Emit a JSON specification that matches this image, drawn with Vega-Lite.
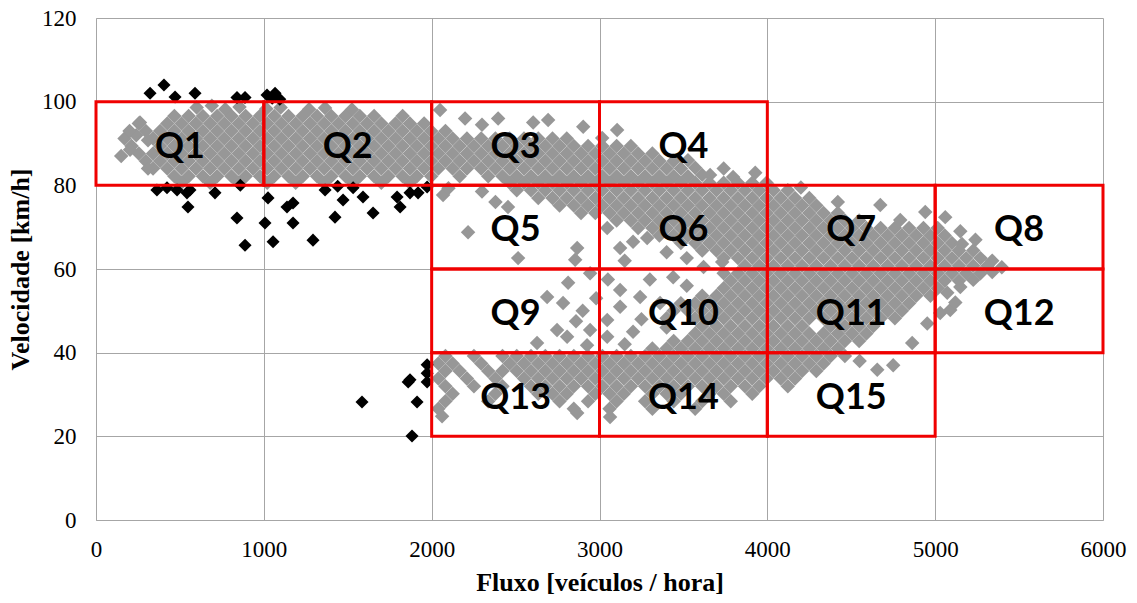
{
"$schema":"https://vega.github.io/schema/vega-lite/v6.json",
"width":1007,"height":502,
"autosize":{"type":"none"},
"padding":{"left":96,"top":18,"right":34,"bottom":83},
"background":"white",
"config":{"view":{"stroke":null}},
"datasets":{
"gray":[
{"x":600,"y":98.6},{"x":770,"y":98.2},{"x":855,"y":98.7},{"x":1015,"y":98.3},{"x":1100,"y":98.6},{"x":1270,"y":98.2},{"x":1365,"y":98.5},{"x":1525,"y":98.1},{"x":690,"y":99.0},
{"x":467,"y":96.6},{"x":552,"y":96.6},{"x":637,"y":96.6},{"x":722,"y":96.6},{"x":807,"y":96.6},{"x":892,"y":96.6},{"x":977,"y":96.6},{"x":1062,"y":96.6},{"x":1147,"y":96.6},{"x":1232,"y":96.6},{"x":1317,"y":96.6},{"x":1402,"y":96.6},{"x":1487,"y":96.6},{"x":1572,"y":96.6},{"x":1657,"y":96.6},{"x":1827,"y":96.6},
{"x":255,"y":94.8},{"x":425,"y":94.8},{"x":510,"y":94.8},{"x":595,"y":94.8},{"x":680,"y":94.8},{"x":765,"y":94.8},{"x":850,"y":94.8},{"x":935,"y":94.8},{"x":1020,"y":94.8},{"x":1105,"y":94.8},{"x":1190,"y":94.8},{"x":1275,"y":94.8},{"x":1360,"y":94.8},{"x":1445,"y":94.8},{"x":1530,"y":94.8},{"x":1615,"y":94.8},{"x":1700,"y":94.8},{"x":1785,"y":94.8},{"x":1870,"y":94.8},{"x":1955,"y":94.8},
{"x":297,"y":93.0},{"x":382,"y":93.0},{"x":467,"y":93.0},{"x":552,"y":93.0},{"x":637,"y":93.0},{"x":722,"y":93.0},{"x":807,"y":93.0},{"x":892,"y":93.0},{"x":977,"y":93.0},{"x":1062,"y":93.0},{"x":1147,"y":93.0},{"x":1232,"y":93.0},{"x":1317,"y":93.0},{"x":1402,"y":93.0},{"x":1487,"y":93.0},{"x":1572,"y":93.0},{"x":1657,"y":93.0},{"x":1742,"y":93.0},{"x":1827,"y":93.0},{"x":1912,"y":93.0},{"x":1997,"y":93.0},{"x":2082,"y":93.0},
{"x":170,"y":91.2},{"x":340,"y":91.2},{"x":425,"y":91.2},{"x":510,"y":91.2},{"x":595,"y":91.2},{"x":680,"y":91.2},{"x":765,"y":91.2},{"x":850,"y":91.2},{"x":935,"y":91.2},{"x":1020,"y":91.2},{"x":1105,"y":91.2},{"x":1190,"y":91.2},{"x":1275,"y":91.2},{"x":1360,"y":91.2},{"x":1445,"y":91.2},{"x":1530,"y":91.2},{"x":1615,"y":91.2},{"x":1700,"y":91.2},{"x":1785,"y":91.2},{"x":1870,"y":91.2},{"x":1955,"y":91.2},{"x":2040,"y":91.2},{"x":2125,"y":91.2},{"x":2210,"y":91.2},{"x":2295,"y":91.2},{"x":2380,"y":91.2},{"x":2465,"y":91.2},{"x":2550,"y":91.2},{"x":2635,"y":91.2},{"x":2720,"y":91.2},{"x":2805,"y":91.2},
{"x":212,"y":89.4},{"x":382,"y":89.4},{"x":467,"y":89.4},{"x":552,"y":89.4},{"x":637,"y":89.4},{"x":722,"y":89.4},{"x":807,"y":89.4},{"x":892,"y":89.4},{"x":977,"y":89.4},{"x":1062,"y":89.4},{"x":1147,"y":89.4},{"x":1232,"y":89.4},{"x":1317,"y":89.4},{"x":1402,"y":89.4},{"x":1487,"y":89.4},{"x":1572,"y":89.4},{"x":1657,"y":89.4},{"x":1742,"y":89.4},{"x":1827,"y":89.4},{"x":1912,"y":89.4},{"x":1997,"y":89.4},{"x":2082,"y":89.4},{"x":2167,"y":89.4},{"x":2252,"y":89.4},{"x":2337,"y":89.4},{"x":2422,"y":89.4},{"x":2507,"y":89.4},{"x":2592,"y":89.4},{"x":2677,"y":89.4},{"x":2762,"y":89.4},{"x":2847,"y":89.4},{"x":2932,"y":89.4},{"x":3017,"y":89.4},{"x":3102,"y":89.4},{"x":3187,"y":89.4},
{"x":255,"y":87.6},{"x":340,"y":87.6},{"x":425,"y":87.6},{"x":510,"y":87.6},{"x":595,"y":87.6},{"x":680,"y":87.6},{"x":765,"y":87.6},{"x":850,"y":87.6},{"x":935,"y":87.6},{"x":1020,"y":87.6},{"x":1105,"y":87.6},{"x":1190,"y":87.6},{"x":1275,"y":87.6},{"x":1360,"y":87.6},{"x":1445,"y":87.6},{"x":1530,"y":87.6},{"x":1615,"y":87.6},{"x":1700,"y":87.6},{"x":1785,"y":87.6},{"x":1870,"y":87.6},{"x":1955,"y":87.6},{"x":2040,"y":87.6},{"x":2125,"y":87.6},{"x":2210,"y":87.6},{"x":2295,"y":87.6},{"x":2380,"y":87.6},{"x":2465,"y":87.6},{"x":2550,"y":87.6},{"x":2635,"y":87.6},{"x":2720,"y":87.6},{"x":2805,"y":87.6},{"x":2890,"y":87.6},{"x":2975,"y":87.6},{"x":3060,"y":87.6},{"x":3145,"y":87.6},{"x":3230,"y":87.6},{"x":3315,"y":87.6},
{"x":297,"y":85.8},{"x":382,"y":85.8},{"x":467,"y":85.8},{"x":552,"y":85.8},{"x":637,"y":85.8},{"x":722,"y":85.8},{"x":807,"y":85.8},{"x":892,"y":85.8},{"x":977,"y":85.8},{"x":1062,"y":85.8},{"x":1147,"y":85.8},{"x":1232,"y":85.8},{"x":1317,"y":85.8},{"x":1402,"y":85.8},{"x":1487,"y":85.8},{"x":1572,"y":85.8},{"x":1657,"y":85.8},{"x":1742,"y":85.8},{"x":1827,"y":85.8},{"x":1912,"y":85.8},{"x":1997,"y":85.8},{"x":2082,"y":85.8},{"x":2167,"y":85.8},{"x":2252,"y":85.8},{"x":2337,"y":85.8},{"x":2422,"y":85.8},{"x":2507,"y":85.8},{"x":2592,"y":85.8},{"x":2677,"y":85.8},{"x":2762,"y":85.8},{"x":2847,"y":85.8},{"x":2932,"y":85.8},{"x":3017,"y":85.8},{"x":3102,"y":85.8},{"x":3187,"y":85.8},{"x":3272,"y":85.8},{"x":3357,"y":85.8},{"x":3442,"y":85.8},{"x":3527,"y":86.0},
{"x":340,"y":84.0},{"x":425,"y":84.0},{"x":510,"y":84.0},{"x":595,"y":84.0},{"x":680,"y":84.0},{"x":765,"y":84.0},{"x":850,"y":84.0},{"x":935,"y":84.0},{"x":1020,"y":84.0},{"x":1105,"y":84.0},{"x":1190,"y":84.0},{"x":1275,"y":84.0},{"x":1360,"y":84.0},{"x":1445,"y":84.0},{"x":1530,"y":84.0},{"x":1615,"y":84.0},{"x":1700,"y":84.0},{"x":1785,"y":84.0},{"x":1870,"y":84.0},{"x":1955,"y":84.0},{"x":2040,"y":84.0},{"x":2125,"y":84.0},{"x":2210,"y":84.0},{"x":2295,"y":84.0},{"x":2380,"y":84.0},{"x":2465,"y":84.0},{"x":2550,"y":84.0},{"x":2635,"y":84.0},{"x":2720,"y":84.0},{"x":2805,"y":84.0},{"x":2890,"y":84.0},{"x":2975,"y":84.0},{"x":3060,"y":84.0},{"x":3145,"y":84.0},{"x":3230,"y":84.0},{"x":3315,"y":84.0},{"x":3400,"y":84.0},{"x":3485,"y":84.0},{"x":3570,"y":84.2},{"x":3740,"y":84.0},
{"x":467,"y":82.2},{"x":552,"y":82.2},{"x":637,"y":82.2},{"x":722,"y":82.2},{"x":807,"y":82.2},{"x":892,"y":82.2},{"x":977,"y":82.2},{"x":1062,"y":82.2},{"x":1147,"y":82.2},{"x":1232,"y":82.2},{"x":1317,"y":82.2},{"x":1402,"y":82.2},{"x":1487,"y":82.2},{"x":1572,"y":82.2},{"x":1657,"y":82.2},{"x":1742,"y":82.2},{"x":1827,"y":82.2},{"x":1912,"y":82.2},{"x":1997,"y":82.2},{"x":2167,"y":82.2},{"x":2337,"y":82.2},{"x":2422,"y":82.2},{"x":2507,"y":82.2},{"x":2592,"y":82.2},{"x":2677,"y":82.2},{"x":2762,"y":82.2},{"x":2847,"y":82.2},{"x":2932,"y":82.2},{"x":3017,"y":82.2},{"x":3102,"y":82.2},{"x":3187,"y":82.2},{"x":3272,"y":82.2},{"x":3357,"y":82.2},{"x":3442,"y":82.2},{"x":3527,"y":82.2},{"x":3612,"y":82.5},{"x":3659,"y":82.5},{"x":3796,"y":82.0},{"x":3928,"y":83.0},
{"x":510,"y":80.6},{"x":680,"y":80.6},{"x":850,"y":80.6},{"x":1020,"y":80.6},{"x":1190,"y":80.6},{"x":1360,"y":80.6},{"x":1530,"y":80.6},{"x":1700,"y":80.6},{"x":1870,"y":80.6},{"x":2465,"y":80.6},{"x":2550,"y":80.6},{"x":2635,"y":80.6},{"x":2720,"y":80.6},{"x":2805,"y":80.6},{"x":2890,"y":80.6},{"x":2975,"y":80.6},{"x":3060,"y":80.6},{"x":3145,"y":80.6},{"x":3230,"y":80.6},{"x":3315,"y":80.6},{"x":3400,"y":80.6},{"x":3485,"y":80.6},{"x":3570,"y":80.6},{"x":3655,"y":80.6},{"x":3740,"y":80.6},{"x":3825,"y":80.6},{"x":3910,"y":80.6},{"x":3995,"y":80.6},
{"x":2507,"y":78.8},{"x":2592,"y":78.8},{"x":2677,"y":78.8},{"x":2762,"y":78.8},{"x":2847,"y":78.8},{"x":2932,"y":78.8},{"x":3017,"y":78.8},{"x":3102,"y":78.8},{"x":3187,"y":78.8},{"x":3272,"y":78.8},{"x":3357,"y":78.8},{"x":3442,"y":78.8},{"x":3527,"y":78.8},{"x":3612,"y":78.8},{"x":3697,"y":78.8},{"x":3782,"y":78.8},{"x":3867,"y":78.8},{"x":3952,"y":78.8},{"x":4037,"y":78.8},{"x":4122,"y":78.8},
{"x":2635,"y":77.0},{"x":2720,"y":77.0},{"x":2805,"y":77.0},{"x":2890,"y":77.0},{"x":2975,"y":77.0},{"x":3060,"y":77.0},{"x":3145,"y":77.0},{"x":3230,"y":77.0},{"x":3315,"y":77.0},{"x":3400,"y":77.0},{"x":3485,"y":77.0},{"x":3570,"y":77.0},{"x":3655,"y":77.0},{"x":3740,"y":77.0},{"x":3825,"y":77.0},{"x":3910,"y":77.0},{"x":3995,"y":77.0},{"x":4080,"y":77.0},{"x":4165,"y":77.0},{"x":4250,"y":77.0},
{"x":2762,"y":75.2},{"x":2847,"y":75.2},{"x":2932,"y":75.2},{"x":3017,"y":75.2},{"x":3102,"y":75.2},{"x":3187,"y":75.2},{"x":3272,"y":75.2},{"x":3357,"y":75.2},{"x":3442,"y":75.2},{"x":3527,"y":75.2},{"x":3612,"y":75.2},{"x":3697,"y":75.2},{"x":3782,"y":75.2},{"x":3867,"y":75.2},{"x":3952,"y":75.2},{"x":4037,"y":75.2},{"x":4122,"y":75.2},{"x":4207,"y":75.2},{"x":4292,"y":75.2},
{"x":2890,"y":73.4},{"x":2975,"y":73.4},{"x":3060,"y":73.4},{"x":3145,"y":73.4},{"x":3230,"y":73.4},{"x":3315,"y":73.4},{"x":3400,"y":73.4},{"x":3485,"y":73.4},{"x":3570,"y":73.4},{"x":3655,"y":73.4},{"x":3740,"y":73.4},{"x":3825,"y":73.4},{"x":3910,"y":73.4},{"x":3995,"y":73.4},{"x":4080,"y":73.4},{"x":4165,"y":73.4},{"x":4250,"y":73.4},{"x":4335,"y":73.4},{"x":4420,"y":73.4},
{"x":3102,"y":71.6},{"x":3187,"y":71.6},{"x":3272,"y":71.6},{"x":3357,"y":71.6},{"x":3442,"y":71.6},{"x":3527,"y":71.6},{"x":3612,"y":71.6},{"x":3697,"y":71.6},{"x":3782,"y":71.6},{"x":3867,"y":71.6},{"x":3952,"y":71.6},{"x":4037,"y":71.6},{"x":4122,"y":71.6},{"x":4207,"y":71.6},{"x":4292,"y":71.6},{"x":4377,"y":71.6},{"x":4462,"y":71.6},{"x":4547,"y":71.6},
{"x":3230,"y":69.8},{"x":3315,"y":69.8},{"x":3400,"y":69.8},{"x":3485,"y":69.8},{"x":3570,"y":69.8},{"x":3655,"y":69.8},{"x":3740,"y":69.8},{"x":3825,"y":69.8},{"x":3910,"y":69.8},{"x":3995,"y":69.8},{"x":4080,"y":69.8},{"x":4165,"y":69.8},{"x":4250,"y":69.8},{"x":4335,"y":69.8},{"x":4420,"y":69.8},{"x":4505,"y":69.8},{"x":4590,"y":69.8},{"x":4675,"y":69.8},{"x":4760,"y":69.8},{"x":4845,"y":69.8},{"x":4930,"y":69.8},{"x":5015,"y":69.8},
{"x":3357,"y":68.0},{"x":3442,"y":68.0},{"x":3527,"y":68.0},{"x":3612,"y":68.0},{"x":3697,"y":68.0},{"x":3782,"y":68.0},{"x":3867,"y":68.0},{"x":3952,"y":68.0},{"x":4037,"y":68.0},{"x":4122,"y":68.0},{"x":4207,"y":68.0},{"x":4292,"y":68.0},{"x":4377,"y":68.0},{"x":4462,"y":68.0},{"x":4547,"y":68.0},{"x":4632,"y":68.0},{"x":4717,"y":68.0},{"x":4802,"y":68.0},{"x":4887,"y":68.0},{"x":4972,"y":68.0},{"x":5057,"y":68.0},
{"x":3485,"y":66.2},{"x":3570,"y":66.2},{"x":3655,"y":66.2},{"x":3740,"y":66.2},{"x":3825,"y":66.2},{"x":3910,"y":66.2},{"x":3995,"y":66.2},{"x":4080,"y":66.2},{"x":4165,"y":66.2},{"x":4250,"y":66.2},{"x":4335,"y":66.2},{"x":4420,"y":66.2},{"x":4505,"y":66.2},{"x":4590,"y":66.2},{"x":4675,"y":66.2},{"x":4760,"y":66.2},{"x":4845,"y":66.2},{"x":4930,"y":66.2},{"x":5015,"y":66.2},{"x":5100,"y":66.2},{"x":5160,"y":66.0},
{"x":3612,"y":64.4},{"x":3697,"y":64.4},{"x":3782,"y":64.4},{"x":3867,"y":64.4},{"x":3952,"y":64.4},{"x":4037,"y":64.4},{"x":4122,"y":64.4},{"x":4207,"y":64.4},{"x":4292,"y":64.4},{"x":4377,"y":64.4},{"x":4462,"y":64.4},{"x":4547,"y":64.4},{"x":4632,"y":64.4},{"x":4717,"y":64.4},{"x":4802,"y":64.4},{"x":4887,"y":64.4},{"x":4972,"y":64.4},{"x":5057,"y":64.4},{"x":5142,"y":64.4},{"x":5227,"y":64.4},
{"x":3740,"y":62.6},{"x":3825,"y":62.6},{"x":3910,"y":62.6},{"x":3995,"y":62.6},{"x":4080,"y":62.6},{"x":4165,"y":62.6},{"x":4250,"y":62.6},{"x":4335,"y":62.6},{"x":4420,"y":62.6},{"x":4505,"y":62.6},{"x":4590,"y":62.6},{"x":4675,"y":62.6},{"x":4760,"y":62.6},{"x":4845,"y":62.6},{"x":4930,"y":62.6},{"x":5015,"y":62.6},{"x":5100,"y":62.6},{"x":5185,"y":62.6},{"x":5270,"y":62.6},{"x":5340,"y":62.0},
{"x":3867,"y":60.8},{"x":3952,"y":60.8},{"x":4037,"y":60.8},{"x":4122,"y":60.8},{"x":4207,"y":60.8},{"x":4292,"y":60.8},{"x":4377,"y":60.8},{"x":4462,"y":60.8},{"x":4547,"y":60.8},{"x":4632,"y":60.8},{"x":4717,"y":60.8},{"x":4802,"y":60.8},{"x":4887,"y":60.8},{"x":4972,"y":60.8},{"x":5057,"y":60.8},{"x":5142,"y":60.8},{"x":5227,"y":60.8},{"x":5312,"y":60.8},{"x":5397,"y":60.4},
{"x":3740,"y":59.0},{"x":3825,"y":59.0},{"x":3910,"y":59.0},{"x":3995,"y":59.0},{"x":4080,"y":59.0},{"x":4165,"y":59.0},{"x":4250,"y":59.0},{"x":4335,"y":59.0},{"x":4420,"y":59.0},{"x":4505,"y":59.0},{"x":4590,"y":59.0},{"x":4675,"y":59.0},{"x":4760,"y":59.0},{"x":4845,"y":59.0},{"x":4930,"y":59.0},{"x":5015,"y":59.0},{"x":5100,"y":59.0},{"x":5185,"y":59.0},{"x":5270,"y":59.0},{"x":5340,"y":59.3},
{"x":3782,"y":57.2},{"x":3867,"y":57.2},{"x":3952,"y":57.2},{"x":4037,"y":57.2},{"x":4122,"y":57.2},{"x":4207,"y":57.2},{"x":4292,"y":57.2},{"x":4377,"y":57.2},{"x":4462,"y":57.2},{"x":4547,"y":57.2},{"x":4632,"y":57.2},{"x":4717,"y":57.2},{"x":4802,"y":57.2},{"x":4887,"y":57.2},{"x":4972,"y":57.2},{"x":5057,"y":57.2},{"x":5142,"y":57.2},{"x":5227,"y":57.4},
{"x":3740,"y":55.4},{"x":3825,"y":55.4},{"x":3910,"y":55.4},{"x":3995,"y":55.4},{"x":4080,"y":55.4},{"x":4165,"y":55.4},{"x":4250,"y":55.4},{"x":4335,"y":55.4},{"x":4420,"y":55.4},{"x":4505,"y":55.4},{"x":4590,"y":55.4},{"x":4675,"y":55.4},{"x":4760,"y":55.4},{"x":4845,"y":55.4},{"x":4930,"y":55.4},{"x":5015,"y":55.4},
{"x":3612,"y":53.6},{"x":3697,"y":53.6},{"x":3782,"y":53.6},{"x":3867,"y":53.6},{"x":3952,"y":53.6},{"x":4037,"y":53.6},{"x":4122,"y":53.6},{"x":4207,"y":53.6},{"x":4292,"y":53.6},{"x":4377,"y":53.6},{"x":4462,"y":53.6},{"x":4547,"y":53.6},{"x":4632,"y":53.6},{"x":4717,"y":53.6},{"x":4802,"y":53.6},{"x":4887,"y":53.6},{"x":4972,"y":53.6},
{"x":3485,"y":51.8},{"x":3570,"y":51.8},{"x":3655,"y":51.8},{"x":3740,"y":51.8},{"x":3825,"y":51.8},{"x":3910,"y":51.8},{"x":3995,"y":51.8},{"x":4080,"y":51.8},{"x":4165,"y":51.8},{"x":4250,"y":51.8},{"x":4335,"y":51.8},{"x":4420,"y":51.8},{"x":4505,"y":51.8},{"x":4590,"y":51.8},{"x":4675,"y":51.8},{"x":4760,"y":51.8},{"x":4845,"y":51.8},
{"x":3442,"y":50.0},{"x":3527,"y":50.0},{"x":3612,"y":50.0},{"x":3697,"y":50.0},{"x":3782,"y":50.0},{"x":3867,"y":50.0},{"x":3952,"y":50.0},{"x":4037,"y":50.0},{"x":4122,"y":50.0},{"x":4207,"y":50.0},{"x":4292,"y":50.0},{"x":4377,"y":50.0},{"x":4462,"y":50.0},{"x":4547,"y":50.0},{"x":4632,"y":50.0},{"x":4717,"y":50.0},{"x":4802,"y":50.0},
{"x":3400,"y":48.2},{"x":3570,"y":48.2},{"x":3655,"y":48.2},{"x":3740,"y":48.2},{"x":3825,"y":48.2},{"x":3910,"y":48.2},{"x":3995,"y":48.2},{"x":4080,"y":48.2},{"x":4165,"y":48.2},{"x":4250,"y":48.2},{"x":4335,"y":48.2},{"x":4420,"y":48.2},{"x":4505,"y":48.2},{"x":4590,"y":48.2},{"x":4675,"y":48.2},{"x":4760,"y":48.2},
{"x":3612,"y":46.4},{"x":3697,"y":46.4},{"x":3782,"y":46.4},{"x":3867,"y":46.4},{"x":3952,"y":46.4},{"x":4037,"y":46.4},{"x":4122,"y":46.4},{"x":4207,"y":46.4},{"x":4377,"y":46.4},{"x":4462,"y":46.4},{"x":4547,"y":46.4},{"x":4632,"y":46.4},
{"x":3570,"y":44.6},{"x":3655,"y":44.6},{"x":3740,"y":44.6},{"x":3825,"y":44.6},{"x":3910,"y":44.6},{"x":3995,"y":44.6},{"x":4080,"y":44.6},{"x":4165,"y":44.6},{"x":4250,"y":44.6},{"x":4335,"y":44.6},{"x":4420,"y":44.6},{"x":4505,"y":44.6},{"x":4590,"y":44.6},
{"x":3442,"y":42.8},{"x":3527,"y":42.8},{"x":3612,"y":42.8},{"x":3697,"y":42.8},{"x":3782,"y":42.8},{"x":3867,"y":42.8},{"x":3952,"y":42.8},{"x":4037,"y":42.8},{"x":4122,"y":42.8},{"x":4207,"y":42.8},{"x":4292,"y":42.8},{"x":4377,"y":42.8},{"x":4462,"y":42.8},{"x":4547,"y":42.8},
{"x":3315,"y":41.0},{"x":3400,"y":41.0},{"x":3485,"y":41.0},{"x":3570,"y":41.0},{"x":3655,"y":41.0},{"x":3740,"y":41.0},{"x":3825,"y":41.0},{"x":3910,"y":41.0},{"x":3995,"y":41.0},{"x":4080,"y":41.0},{"x":4165,"y":41.0},{"x":4250,"y":41.0},{"x":4335,"y":41.0},{"x":4420,"y":41.0},
{"x":2082,"y":39.2},{"x":2252,"y":39.2},{"x":2422,"y":39.2},{"x":2507,"y":39.2},{"x":2592,"y":39.2},{"x":2677,"y":39.2},{"x":2762,"y":39.2},{"x":2847,"y":39.2},{"x":2932,"y":39.2},{"x":3017,"y":39.2},{"x":3102,"y":39.2},{"x":3187,"y":39.2},{"x":3272,"y":39.2},{"x":3357,"y":39.2},{"x":3442,"y":39.2},{"x":3527,"y":39.2},{"x":3612,"y":39.2},{"x":3697,"y":39.2},{"x":3782,"y":39.2},{"x":3867,"y":39.2},{"x":3952,"y":39.2},{"x":4037,"y":39.2},{"x":4122,"y":39.2},{"x":4207,"y":39.2},{"x":4292,"y":39.2},{"x":4377,"y":39.2},{"x":4462,"y":39.2},
{"x":2040,"y":37.4},{"x":2125,"y":37.4},{"x":2295,"y":37.4},{"x":2465,"y":37.4},{"x":2550,"y":37.4},{"x":2635,"y":37.4},{"x":2720,"y":37.4},{"x":2805,"y":37.4},{"x":2890,"y":37.4},{"x":2975,"y":37.4},{"x":3060,"y":37.4},{"x":3145,"y":37.4},{"x":3230,"y":37.4},{"x":3315,"y":37.4},{"x":3400,"y":37.4},{"x":3485,"y":37.4},{"x":3570,"y":37.4},{"x":3655,"y":37.4},{"x":3740,"y":37.4},{"x":3825,"y":37.4},{"x":3910,"y":37.4},{"x":3995,"y":37.4},{"x":4080,"y":37.4},{"x":4165,"y":37.4},{"x":4250,"y":37.4},{"x":4335,"y":37.4},
{"x":2082,"y":35.6},{"x":2167,"y":35.6},{"x":2337,"y":35.6},{"x":2422,"y":35.6},{"x":2507,"y":35.6},{"x":2592,"y":35.6},{"x":2677,"y":35.6},{"x":2762,"y":35.6},{"x":2847,"y":35.6},{"x":2932,"y":35.6},{"x":3017,"y":35.6},{"x":3102,"y":35.6},{"x":3187,"y":35.6},{"x":3272,"y":35.6},{"x":3357,"y":35.6},{"x":3442,"y":35.6},{"x":3527,"y":35.6},{"x":3612,"y":35.6},{"x":3697,"y":35.6},{"x":3782,"y":35.6},{"x":3867,"y":35.6},{"x":3952,"y":35.6},{"x":4037,"y":35.6},{"x":4122,"y":35.6},{"x":4207,"y":35.6},{"x":4292,"y":35.6},
{"x":2040,"y":33.8},{"x":2210,"y":33.8},{"x":2380,"y":33.8},{"x":2550,"y":33.8},{"x":2635,"y":33.8},{"x":2720,"y":33.8},{"x":2805,"y":33.8},{"x":2890,"y":33.8},{"x":2975,"y":33.8},{"x":3060,"y":33.8},{"x":3145,"y":33.8},{"x":3230,"y":33.8},{"x":3315,"y":33.8},{"x":3400,"y":33.8},{"x":3485,"y":33.8},{"x":3570,"y":33.8},{"x":3655,"y":33.8},{"x":3740,"y":33.8},{"x":3825,"y":33.8},{"x":3910,"y":33.8},{"x":3995,"y":33.8},{"x":4080,"y":33.8},{"x":4165,"y":33.8},
{"x":2082,"y":32.0},{"x":2252,"y":32.0},{"x":2422,"y":32.0},{"x":2592,"y":32.0},{"x":2677,"y":32.0},{"x":2762,"y":32.0},{"x":2847,"y":32.0},{"x":2932,"y":32.0},{"x":3017,"y":32.0},{"x":3102,"y":32.0},{"x":3187,"y":32.0},{"x":3272,"y":32.0},{"x":3357,"y":32.0},{"x":3442,"y":32.0},{"x":3527,"y":32.0},{"x":3612,"y":32.0},{"x":3697,"y":32.0},{"x":3782,"y":32.0},{"x":3867,"y":32.0},{"x":3952,"y":32.0},{"x":4122,"y":32.0},
{"x":2125,"y":30.2},{"x":2380,"y":30.2},{"x":2635,"y":30.2},{"x":2720,"y":30.2},{"x":2805,"y":30.2},{"x":2975,"y":30.2},{"x":3060,"y":30.2},{"x":3145,"y":30.2},{"x":3315,"y":30.2},{"x":3400,"y":30.2},{"x":3485,"y":30.2},{"x":3655,"y":30.2},{"x":3740,"y":30.2},{"x":3910,"y":30.2},
{"x":2082,"y":28.4},{"x":2337,"y":28.4},{"x":2762,"y":28.4},{"x":2932,"y":28.4},{"x":3102,"y":28.4},{"x":3272,"y":28.4},{"x":3442,"y":28.4},{"x":3612,"y":28.4},{"x":3782,"y":28.4},
{"x":2040,"y":26.6},{"x":2847,"y":26.6},{"x":3060,"y":26.6},{"x":3315,"y":26.6},{"x":3570,"y":26.6},
{"x":2062,"y":24.8},{"x":2867,"y":25.6},{"x":3063,"y":24.6},
{"x":2050,"y":98},{"x":2199,"y":96},{"x":2396,"y":96},{"x":2605,"y":95},{"x":2694,"y":95.6},{"x":2903,"y":94},{"x":3105,"y":93.2},{"x":3016,"y":91.3},{"x":2300,"y":94.5},
{"x":2068,"y":77.7},{"x":2217,"y":68.8},{"x":2455,"y":74.8},{"x":2515,"y":62.6},{"x":2867,"y":65},{"x":2855,"y":62.2},{"x":2100,"y":79.3},{"x":2300,"y":78.5},{"x":2380,"y":76},
{"x":3046,"y":69.8},{"x":3123,"y":65},{"x":3200,"y":66.5},{"x":3284,"y":67.4},{"x":3520,"y":62.6},{"x":3731,"y":61.7},{"x":3400,"y":64},{"x":3620,"y":60.5},{"x":3150,"y":62},
{"x":4673,"y":75.3},{"x":4792,"y":71.7},{"x":4941,"y":73.6},{"x":4200,"y":79.5},{"x":4420,"y":76},
{"x":5060,"y":72.4},{"x":5150,"y":69},{"x":5240,"y":67},
{"x":5030,"y":49.5},{"x":5090,"y":50.2},{"x":5072,"y":54.3},{"x":5150,"y":55.7},{"x":4953,"y":47},{"x":5120,"y":52},
{"x":2813,"y":56.7},{"x":2688,"y":53.3},{"x":2783,"y":51.9},{"x":2747,"y":45.4},{"x":2807,"y":43.8},{"x":2944,"y":45.4},{"x":2628,"y":42.3},{"x":2926,"y":41.8},{"x":2944,"y":59},{"x":2900,"y":50},{"x":2980,"y":53},{"x":2860,"y":47.5},
{"x":3123,"y":55},{"x":3242,"y":53.3},{"x":3046,"y":47.8},{"x":3123,"y":51},{"x":3046,"y":43.8},{"x":3439,"y":58},{"x":3361,"y":51.9},{"x":3200,"y":45},{"x":3300,"y":57.5},{"x":3520,"y":56},{"x":3050,"y":57.5},{"x":3150,"y":42},{"x":3250,"y":48},{"x":3400,"y":46},
{"x":4655,"y":35.9},{"x":4750,"y":37},{"x":4863,"y":42.3},{"x":4550,"y":38},
{"x":203,"y":88.5},{"x":262,"y":95},{"x":310,"y":90.8},{"x":310,"y":84},{"x":150,"y":87},{"x":240,"y":92},{"x":200,"y":93}
],
"black":[
{"x":322,"y":102},{"x":405,"y":104},{"x":471,"y":101.1},{"x":590,"y":102},{"x":840,"y":101},{"x":888,"y":101},{"x":1019,"y":101.6},{"x":1067,"y":102},{"x":1050,"y":100.8},{"x":1095,"y":100.6},
{"x":363,"y":78.9},{"x":423,"y":79.4},{"x":483,"y":78.9},{"x":542,"y":78.2},{"x":560,"y":78.9},{"x":548,"y":74.8},{"x":709,"y":78.2},{"x":840,"y":72.2},{"x":888,"y":65.7},{"x":1007,"y":71.0},{"x":1025,"y":77.0},{"x":1055,"y":66.5},{"x":1138,"y":74.8},{"x":1174,"y":75.8},{"x":1174,"y":71.0},{"x":1293,"y":66.9},{"x":1365,"y":78.9},{"x":1424,"y":72.4},{"x":1472,"y":76.5},{"x":1532,"y":79.4},{"x":1591,"y":77.2},{"x":1651,"y":73.4},{"x":1794,"y":77.2},{"x":1812,"y":74.8},{"x":1871,"y":78.2},{"x":1919,"y":78.2},{"x":1973,"y":79.6},{"x":860,"y":80},{"x":1440,"y":79.8},
{"x":1871,"y":33.5},{"x":1913,"y":28.2},{"x":1883,"y":20.1},{"x":1585,"y":28.2},{"x":1973,"y":37.1},{"x":1973,"y":35.1},{"x":1973,"y":33.0},{"x":1860,"y":33}
],
"boxes":[
{"q":"Q1","x0":0,"x1":1000,"y0":80,"y1":100,"xc":500,"yc":90},
{"q":"Q2","x0":1000,"x1":2000,"y0":80,"y1":100,"xc":1500,"yc":90},
{"q":"Q3","x0":2000,"x1":3000,"y0":80,"y1":100,"xc":2500,"yc":90},
{"q":"Q4","x0":3000,"x1":4000,"y0":80,"y1":100,"xc":3500,"yc":90},
{"q":"Q5","x0":2000,"x1":3000,"y0":60,"y1":80,"xc":2500,"yc":70},
{"q":"Q6","x0":3000,"x1":4000,"y0":60,"y1":80,"xc":3500,"yc":70},
{"q":"Q7","x0":4000,"x1":5000,"y0":60,"y1":80,"xc":4500,"yc":70},
{"q":"Q8","x0":5000,"x1":6000,"y0":60,"y1":80,"xc":5500,"yc":70},
{"q":"Q9","x0":2000,"x1":3000,"y0":40,"y1":60,"xc":2500,"yc":50},
{"q":"Q10","x0":3000,"x1":4000,"y0":40,"y1":60,"xc":3500,"yc":50},
{"q":"Q11","x0":4000,"x1":5000,"y0":40,"y1":60,"xc":4500,"yc":50},
{"q":"Q12","x0":5000,"x1":6000,"y0":40,"y1":60,"xc":5500,"yc":50},
{"q":"Q13","x0":2000,"x1":3000,"y0":20,"y1":40,"xc":2500,"yc":30},
{"q":"Q14","x0":3000,"x1":4000,"y0":20,"y1":40,"xc":3500,"yc":30},
{"q":"Q15","x0":4000,"x1":5000,"y0":20,"y1":40,"xc":4500,"yc":30}
]
},
"layer":[
{"data":{"name":"gray"},
 "mark":{"type":"point","shape":"diamond","filled":true,"size":210,"color":"#979797","opacity":1,"strokeWidth":0},
 "encoding":{
  "x":{"field":"x","type":"quantitative","scale":{"domain":[0,6000],"nice":false,"zero":true},
   "axis":{"values":[0,1000,2000,3000,4000,5000,6000],"format":"d","title":"Fluxo [veículos / hora]","ticks":false,"labelFont":"Liberation Serif","labelFontSize":23,"labelColor":"#000","labelPadding":18,"labelFlush":false,"titleFont":"Liberation Serif","titleFontSize":26,"titleFontWeight":"bold","titleColor":"#000","titlePadding":8,"grid":true,"gridColor":"#a6a6a6","gridOpacity":1,"domainColor":"#a6a6a6"}},
  "y":{"field":"y","type":"quantitative","scale":{"domain":[0,120],"nice":false},
   "axis":{"values":[0,20,40,60,80,100,120],"format":"d","title":"Velocidade [km/h]","ticks":false,"labelFont":"Liberation Serif","labelFontSize":23,"labelColor":"#000","labelPadding":20,"labelFlush":false,"titleFont":"Liberation Serif","titleFontSize":26,"titleFontWeight":"bold","titleColor":"#000","titlePadding":8,"grid":true,"gridColor":"#a6a6a6","gridOpacity":1,"domainColor":"#a6a6a6"}}
 }},
{"data":{"name":"black"},
 "mark":{"type":"point","shape":"diamond","filled":true,"size":170,"color":"#000000","opacity":1,"strokeWidth":0},
 "encoding":{"x":{"field":"x","type":"quantitative"},"y":{"field":"y","type":"quantitative"}}},
{"data":{"name":"boxes"},
 "mark":{"type":"rect","filled":false,"stroke":"#f00000","strokeWidth":3},
 "encoding":{"x":{"field":"x0","type":"quantitative"},"x2":{"field":"x1"},"y":{"field":"y0","type":"quantitative"},"y2":{"field":"y1"}}},
{"data":{"name":"boxes"},
 "mark":{"type":"text","font":"Lato","fontWeight":"bold","fontSize":36,"color":"#000","baseline":"middle","align":"center","dy":3},
 "encoding":{"x":{"field":"xc","type":"quantitative"},"y":{"field":"yc","type":"quantitative"},"text":{"field":"q"}}}
]
}
